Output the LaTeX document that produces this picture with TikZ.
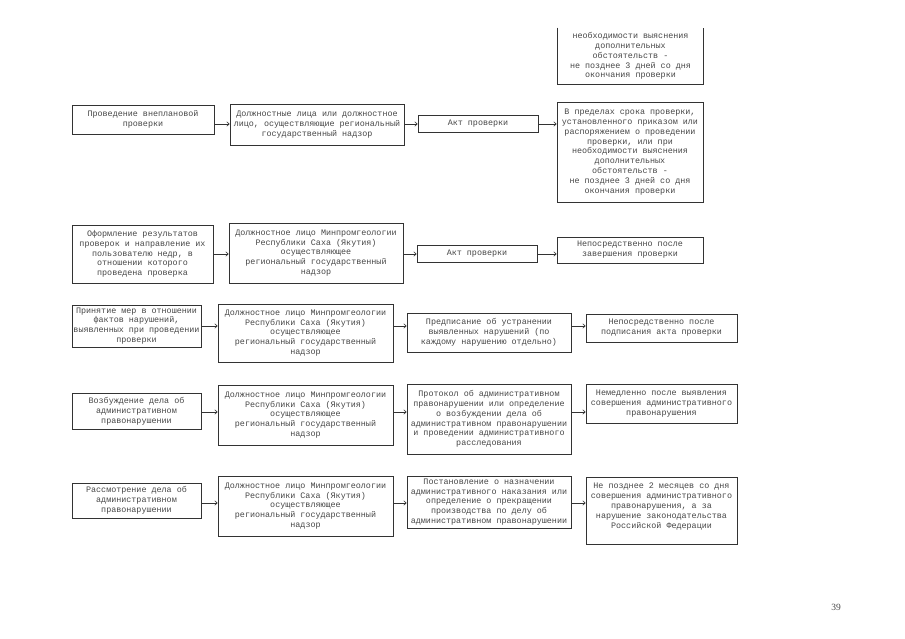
\documentclass[tikz,border=0pt]{standalone}
\usepackage{fontspec}
\setmainfont{Liberation Serif}
\newfontfamily\boxfont{Liberation Mono}
\usetikzlibrary{arrows.meta}
\definecolor{ink}{rgb}{0.28,0.28,0.28}
\definecolor{edge}{rgb}{0.2,0.2,0.2}
\newcommand\mybox[6]{%
  \node[box, minimum width={(#4)-(#2)}, minimum height={(#5)-(#3)}] (#1) at ({((#2)+(#4))/2},{((#3)+(#5))/2}) {#6};}
\begin{document}
\begin{tikzpicture}[x=1pt,y=-1pt,
  box/.style={draw=edge, line width=0.7pt, align=center, text=ink,
    font=\boxfont\fontsize{8.4}{9.8}\selectfont, inner sep=1pt},
  arr/.style={draw=edge, line width=0.6pt, -{Straight Barb[length=2.5pt,width=4.5pt]}}]
\useasboundingbox[fill=white] (0,0) rectangle (905,639);

% partial top box
\node[box, draw=none, minimum width=145, minimum height=56] (D0) at (630.5,56) {необходимости выяснения\\дополнительных\\обстоятельств -\\не позднее 3 дней со дня\\окончания проверки};
\draw[edge, line width=0.7pt] (D0.north west) -- (D0.south west) -- (D0.south east) -- (D0.north east);

% row 1
\mybox{A1}{72}{105}{214}{134}{Проведение внеплановой\\проверки}
\mybox{B1}{230}{104}{404}{145}{Должностные лица или должностное\\лицо, осуществляющие региональный\\государственный надзор}
\mybox{C1}{418}{115}{538}{132}{Акт проверки}
\mybox{D1}{557}{102}{703}{202}{В пределах срока проверки,\\установленного приказом или\\распоряжением о проведении\\проверки, или при\\необходимости выяснения\\дополнительных\\обстоятельств -\\не позднее 3 дней со дня\\окончания проверки}
\coordinate (r1) at (0,124);
\draw[arr] (A1.east |- r1) -- (B1.west |- r1);
\draw[arr] (B1.east |- r1) -- (C1.west |- r1);
\draw[arr] (C1.east |- r1) -- (D1.west |- r1);

% row 2
\mybox{A2}{72}{225}{213}{283}{Оформление результатов\\проверок и направление их\\пользователю недр, в\\отношении которого\\проведена проверка}
\mybox{B2}{229}{223}{403}{283}{Должностное лицо Минпромгеологии\\Республики Саха (Якутия)\\осуществляющее\\региональный государственный\\надзор}
\mybox{C2}{417}{245}{537}{262}{Акт проверки}
\mybox{D2}{557}{237}{703}{263}{Непосредственно после\\завершения проверки}
\coordinate (r2) at (0,254);
\draw[arr] (A2.east |- r2) -- (B2.west |- r2);
\draw[arr] (B2.east |- r2) -- (C2.west |- r2);
\draw[arr] (C2.east |- r2) -- (D2.west |- r2);

% row 3
\mybox{A3}{72}{305}{201}{347}{Принятие мер в отношении\\фактов нарушений,\\выявленных при проведении\\проверки}
\mybox{B3}{218}{304}{393}{362}{Должностное лицо Минпромгеологии\\Республики Саха (Якутия)\\осуществляющее\\региональный государственный\\надзор}
\mybox{C3}{407}{313}{571}{352}{Предписание об устранении\\выявленных нарушений (по\\каждому нарушению отдельно)}
\mybox{D3}{586}{314}{737}{342}{Непосредственно после\\подписания акта проверки}
\coordinate (r3) at (0,326);
\draw[arr] (A3.east |- r3) -- (B3.west |- r3);
\draw[arr] (B3.east |- r3) -- (C3.west |- r3);
\draw[arr] (C3.east |- r3) -- (D3.west |- r3);

% row 4
\mybox{A4}{72}{393}{201}{429}{Возбуждение дела об\\административном\\правонарушении}
\mybox{B4}{218}{385}{393}{445}{Должностное лицо Минпромгеологии\\Республики Саха (Якутия)\\осуществляющее\\региональный государственный\\надзор}
\mybox{C4}{407}{384}{571}{454}{Протокол об административном\\правонарушении или определение\\о возбуждении дела об\\административном правонарушении\\и проведении административного\\расследования}
\mybox{D4}{586}{384}{737}{423}{Немедленно после выявления\\совершения административного\\правонарушения}
\coordinate (r4) at (0,412);
\draw[arr] (A4.east |- r4) -- (B4.west |- r4);
\draw[arr] (B4.east |- r4) -- (C4.west |- r4);
\draw[arr] (C4.east |- r4) -- (D4.west |- r4);

% row 5
\mybox{A5}{72}{483}{201}{518}{Рассмотрение дела об\\административном\\правонарушении}
\mybox{B5}{218}{476}{393}{536}{Должностное лицо Минпромгеологии\\Республики Саха (Якутия)\\осуществляющее\\региональный государственный\\надзор}
\mybox{C5}{407}{476}{571}{528}{Постановление о назначении\\административного наказания или\\определение о прекращении\\производства по делу об\\административном правонарушении}
\mybox{D5}{586}{477}{737}{544}{Не позднее 2 месяцев со дня\\совершения административного\\правонарушения, а за\\нарушение законодательства\\Российской Федерации\\~}
\coordinate (r5) at (0,503);
\draw[arr] (A5.east |- r5) -- (B5.west |- r5);
\draw[arr] (B5.east |- r5) -- (C5.west |- r5);
\draw[arr] (C5.east |- r5) -- (D5.west |- r5);

\node[font=\fontsize{9.5}{11}\selectfont, text=ink] (pg) at (836,607) {39};
\end{tikzpicture}
\end{document}
